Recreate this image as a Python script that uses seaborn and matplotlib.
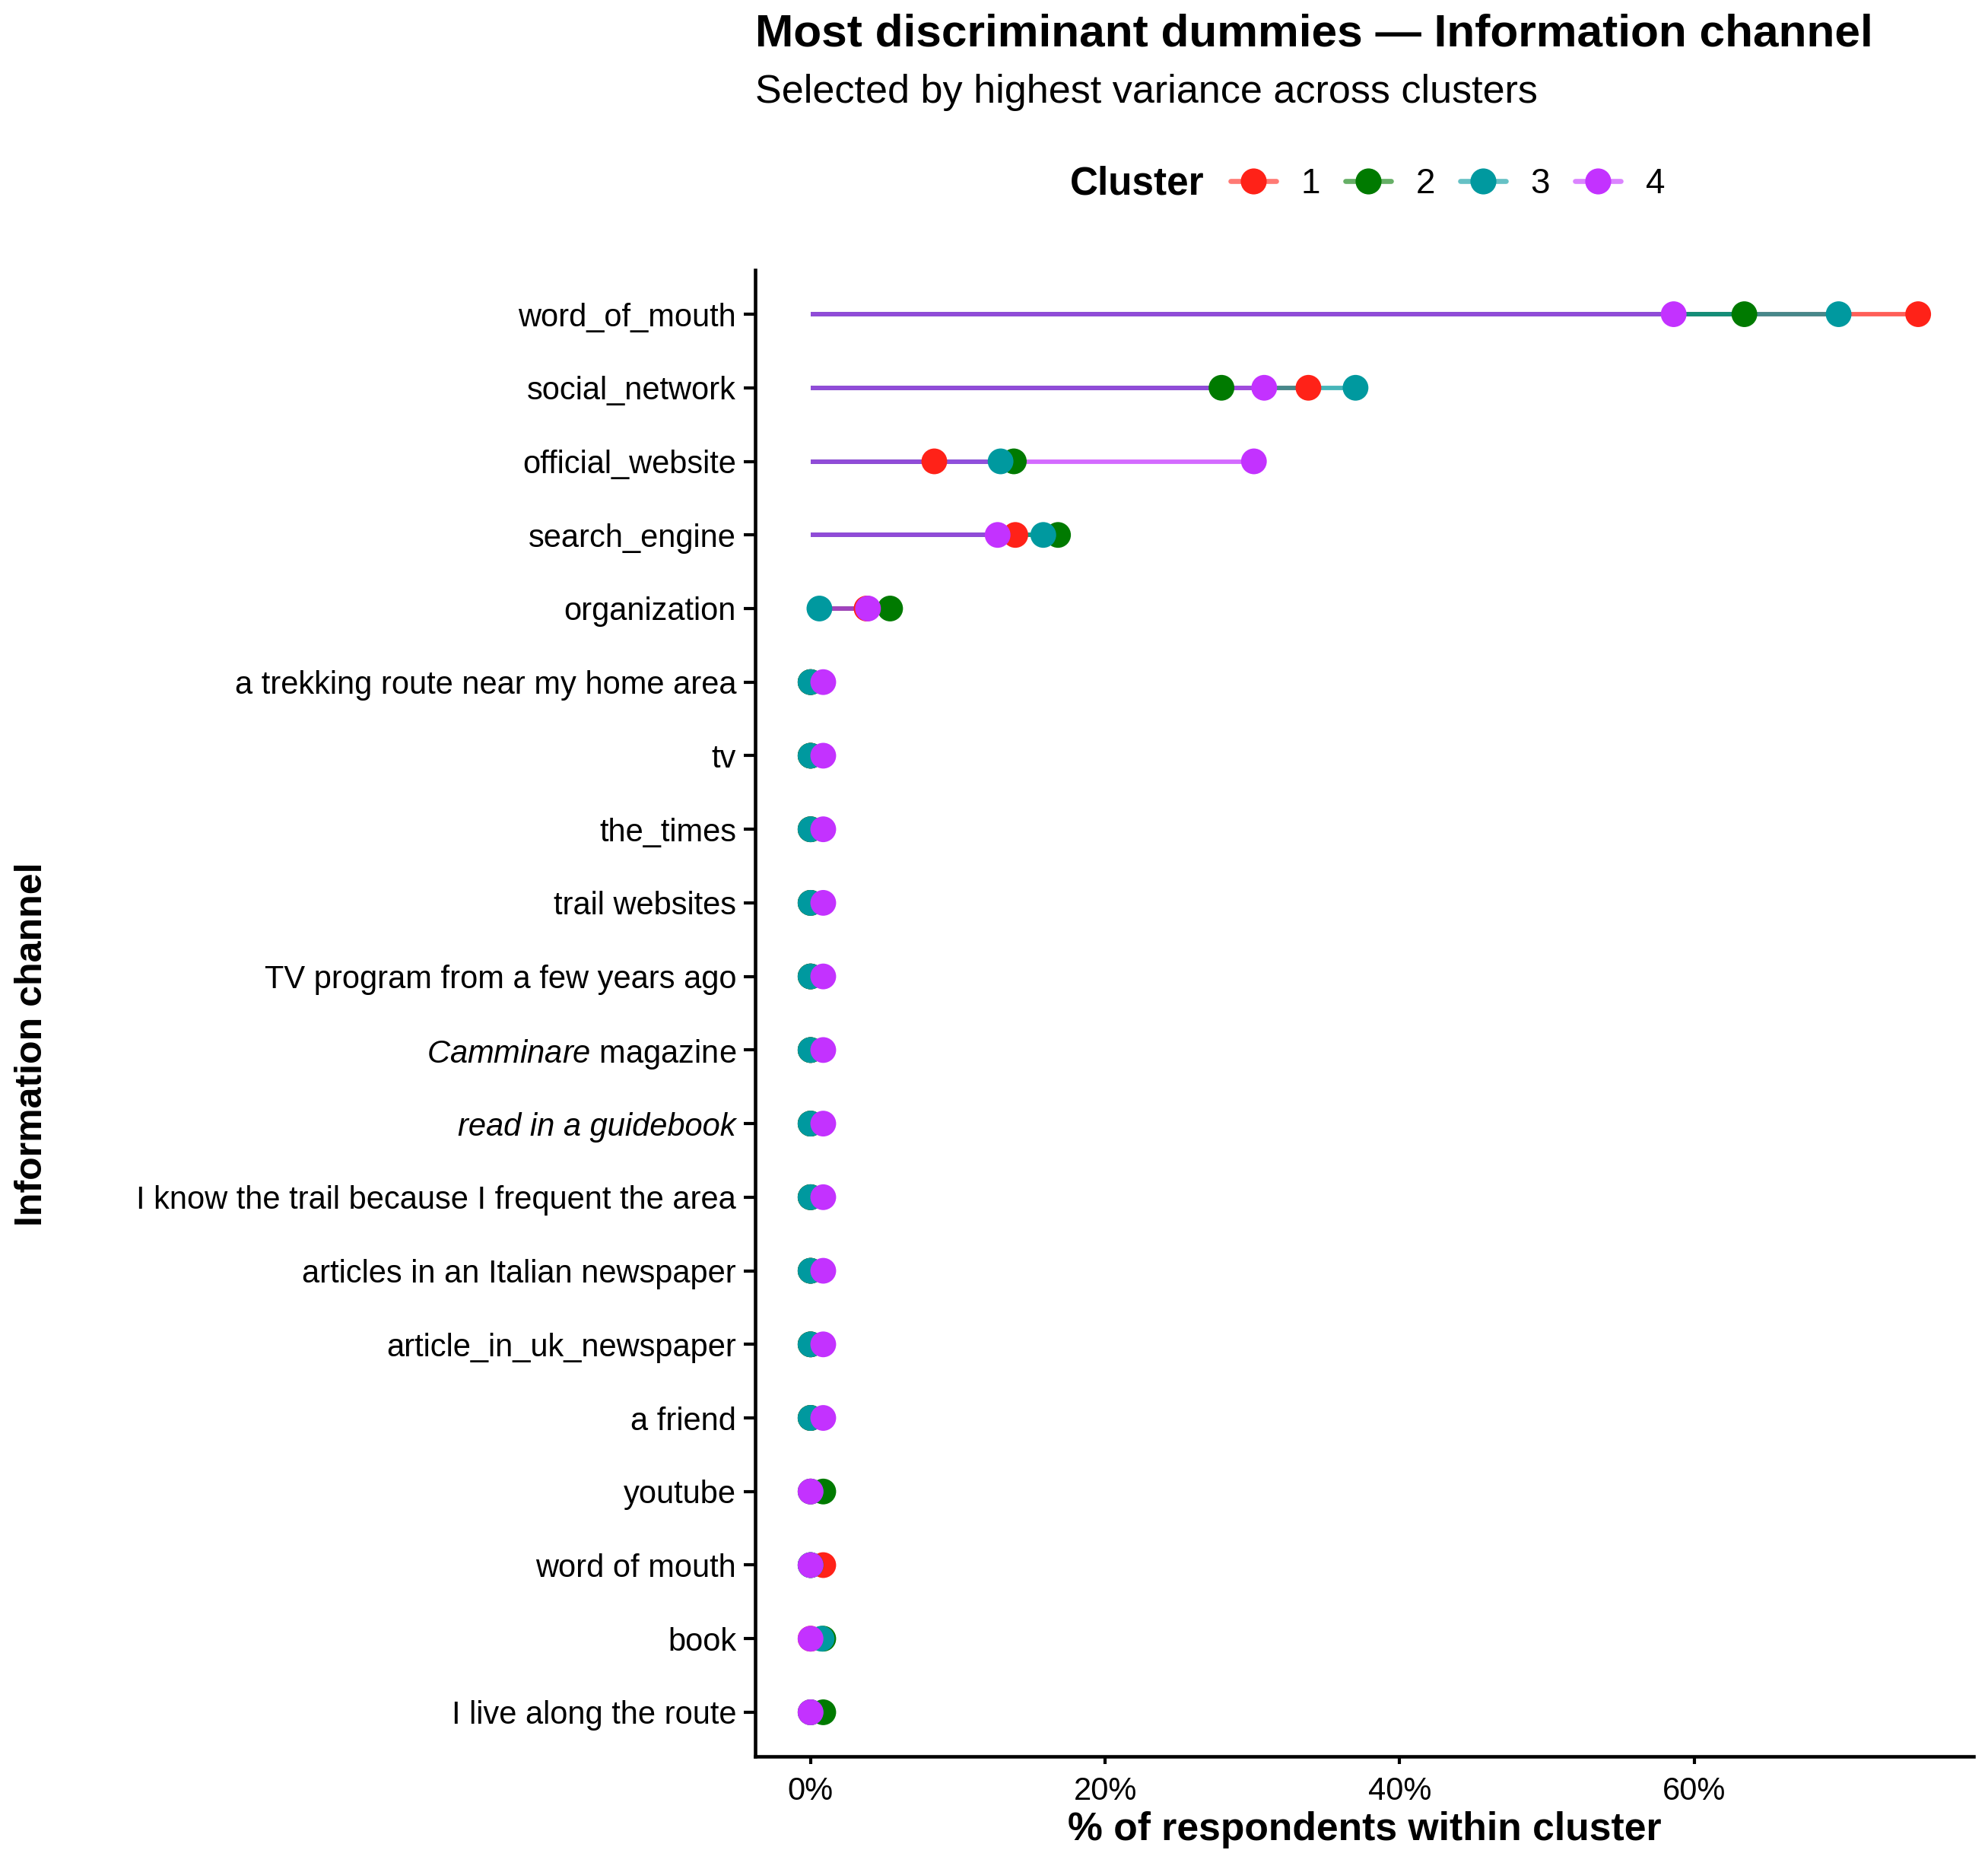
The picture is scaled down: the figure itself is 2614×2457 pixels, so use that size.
import numpy as np
import pandas as pd
import matplotlib
matplotlib.use("Agg")
import matplotlib.pyplot as plt
import seaborn as sns
from matplotlib.lines import Line2D
from matplotlib.colors import to_rgba
from matplotlib.ticker import FuncFormatter

# ---------------- data ----------------
channels = [
    "word_of_mouth", "social_network", "official_website", "search_engine",
    "organization", "a trekking route near my home area", "tv", "the_times",
    "trail websites", "TV program from a few years ago", "Camminare magazine",
    "read in a guidebook", "I know the trail because I frequent the area",
    "articles in an Italian newspaper", "article_in_uk_newspaper", "a friend",
    "youtube", "word of mouth", "book", "I live along the route",
]
cluster_1 = [75.2, 33.8, 8.4, 13.9, 3.8, 0, 0, 0, 0, 0, 0, 0, 0, 0, 0, 0, 0, 0.86, 0, 0]
cluster_2 = [63.4, 27.9, 13.8, 16.8, 5.4, 0, 0, 0, 0, 0, 0, 0, 0, 0, 0, 0, 0.86, 0, 0.86, 0.86]
cluster_3 = [69.8, 37.0, 12.9, 15.8, 0.6, 0, 0, 0, 0, 0, 0, 0, 0, 0, 0, 0, 0, 0, 0.75, 0]
cluster_4 = [58.6, 30.8, 30.1, 12.7, 3.9, 0.86, 0.86, 0.86, 0.86, 0.86, 0.86, 0.86,
             0.86, 0.86, 0.86, 0.86, 0, 0, 0, 0]
clusters = ["1", "2", "3", "4"]
x_ticks = [0, 20, 40, 60]

colors = ["#FF2218", "#007A00", "#00999F", "#C332FF"]

# ---------------- style ----------------
sns.set_style("ticks")
plt.rcParams["font.family"] = ["Liberation Sans", "DejaVu Sans"]
plt.rcParams["mathtext.fontset"] = "custom"
plt.rcParams["mathtext.rm"] = "Liberation Sans"
plt.rcParams["mathtext.it"] = "Liberation Sans:italic"
plt.rcParams["mathtext.bf"] = "Liberation Sans:bold"
plt.rcParams["text.color"] = "black"
plt.rcParams["axes.labelcolor"] = "black"
plt.rcParams["xtick.color"] = "black"
plt.rcParams["ytick.color"] = "black"
plt.rcParams["axes.edgecolor"] = "black"

W, H = 2614, 2457
fig = plt.figure(figsize=(W / 300, H / 300), dpi=300)
ax = fig.add_axes([993 / W, 1 - 2309 / H, (2595 - 993) / W, (2309 - 355) / H])

pos = np.arange(len(channels))
rows = []
for cl, vals in zip(clusters, [cluster_1, cluster_2, cluster_3, cluster_4]):
    for p, ch, v in zip(pos, channels, vals):
        rows.append({"cluster": cl, "channel": ch, "pos": p, "pct": v})
df = pd.DataFrame(rows)

pal = dict(zip(clusters, colors))
for cl in clusters:
    sub = df[df.cluster == cl]
    ax.hlines(sub["pos"], 0, sub["pct"], color=pal[cl], alpha=0.72, lw=1.4, zorder=2)

sns.scatterplot(data=df, x="pct", y="pos", hue="cluster", palette=pal, s=66,
                linewidth=0, legend=False, ax=ax, zorder=3)

ax.set_xlim(-3.76, 78.96)
ax.set_ylim(len(channels) - 0.4, -0.6)

labels = []
for ch in channels:
    if ch == "Camminare magazine":
        labels.append(r"$\it{Camminare}$ magazine")
    else:
        labels.append(ch)
ax.set_yticks(pos)
ax.set_yticklabels(labels)
for t in ax.get_yticklabels():
    if t.get_text() == "read in a guidebook":
        t.set_fontstyle("italic")

ax.set_xticks(x_ticks)
ax.xaxis.set_major_formatter(FuncFormatter(lambda v, _: f"{v:.0f}%"))

ax.tick_params(axis="y", length=3.5, width=1.0, pad=2.5, labelsize=10, colors="black")
ax.tick_params(axis="x", length=2.4, width=1.0, pad=3.8, labelsize=10, colors="black")
sns.despine(ax=ax)
for s in ["left", "bottom"]:
    ax.spines[s].set_linewidth(1.1)
    ax.spines[s].set_color("black")

ax.set_xlabel("% of respondents within cluster", fontsize=12.4, fontweight="bold", color="black")
ax.set_ylabel("Information channel", fontsize=12.0, fontweight="bold", color="black")
ax.xaxis.set_label_coords(0.5, (2309 - 2405) / (2309 - 355))
ax.xaxis.label.set_va("center")
ax.yaxis.set_label_coords((42 - 993) / (2595 - 993), (2309 - 1373) / (2309 - 355))
ax.yaxis.label.set_va("center")

fig.text(993 / W, 1 - 45 / H, "Most discriminant dummies \u2014 Information channel",
         fontsize=14.5, fontweight="bold", va="center", ha="left", color="black")
fig.text(993 / W, 1 - 122 / H, "Selected by highest variance across clusters",
         fontsize=12.5, va="center", ha="left", color="black")

# legend
fig.text(1407 / W, 1 - 242 / H, "Cluster", fontsize=12.3, fontweight="bold",
         va="center", ha="left", color="black")
handles = [Line2D([0], [0], color=to_rgba(c, 0.6), lw=1.6, marker="o",
                  markersize=8.2, markerfacecolor=c, markeredgewidth=0)
           for c in colors]
leg = fig.legend(handles, clusters, loc="center left", bbox_to_anchor=(1618 / W, 1 - 242 / H),
                 ncol=4, frameon=False, fontsize=11, handlelength=1.3, handletextpad=0.72,
                 columnspacing=0.72, borderpad=0, borderaxespad=0)
for t in leg.get_texts():
    t.set_color("black")

fig.savefig("out.png", dpi=300)
